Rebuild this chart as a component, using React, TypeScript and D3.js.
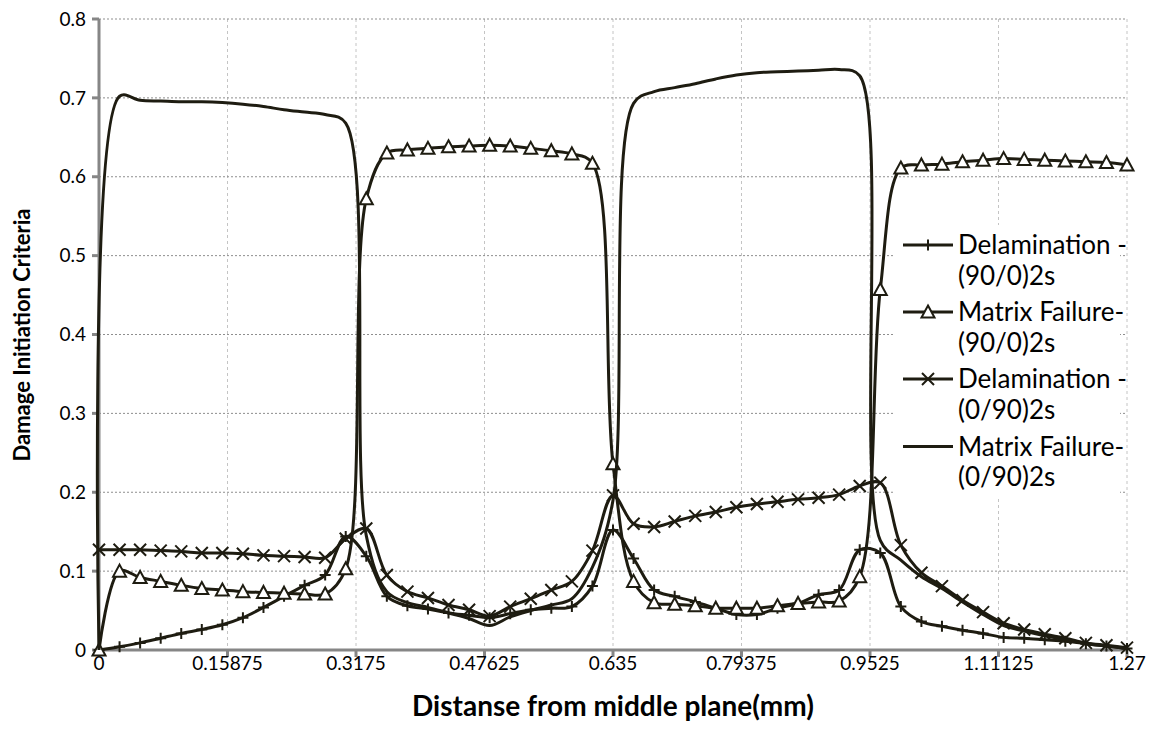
import React from "react";
import * as d3 from "d3";

const xValues = [
  0, 0.0254, 0.0508, 0.0762, 0.1016, 0.127, 0.1524, 0.1778, 0.2032, 0.2286,
  0.254, 0.2794, 0.3048, 0.3302, 0.3556, 0.381, 0.4064, 0.4318, 0.4572, 0.4826,
  0.508, 0.5334, 0.5588, 0.5842, 0.6096, 0.635, 0.6604, 0.6858, 0.7112, 0.7366,
  0.762, 0.7874, 0.8128, 0.8382, 0.8636, 0.889, 0.9144, 0.9398, 0.9652, 0.9906,
  1.016, 1.0414, 1.0668, 1.0922, 1.1176, 1.143, 1.1684, 1.1938, 1.2192, 1.2446, 1.27,
];

const delam90_0 = [
  0, 0.004, 0.009, 0.015, 0.021, 0.026, 0.032, 0.041, 0.054, 0.068,
  0.082, 0.095, 0.144, 0.119, 0.068, 0.056, 0.052, 0.047, 0.044, 0.041,
  0.046, 0.051, 0.053, 0.055, 0.081, 0.152, 0.116, 0.076, 0.068, 0.061,
  0.053, 0.045, 0.045, 0.053, 0.059, 0.07, 0.076, 0.127, 0.123, 0.055,
  0.036, 0.03, 0.025, 0.021, 0.016, 0.015, 0.013, 0.011, 0.008, 0.005, 0.002,
];

const matrix90_0 = [
  0, 0.1, 0.092, 0.087, 0.082, 0.078, 0.076, 0.074, 0.073, 0.072,
  0.071, 0.071, 0.103, 0.572, 0.63, 0.634, 0.636, 0.638, 0.639, 0.64,
  0.639, 0.636, 0.633, 0.629, 0.617, 0.236, 0.087, 0.06, 0.058, 0.056,
  0.053, 0.053, 0.053, 0.056, 0.059, 0.061, 0.062, 0.093, 0.457, 0.611,
  0.615, 0.616, 0.619, 0.621, 0.623, 0.622, 0.621, 0.62, 0.619, 0.618, 0.615,
];

const delam0_90 = [
  0.127, 0.127, 0.127, 0.126, 0.125, 0.123, 0.123, 0.122, 0.12, 0.119,
  0.118, 0.117, 0.141, 0.154, 0.095, 0.074, 0.066, 0.057, 0.051, 0.043,
  0.055, 0.065, 0.076, 0.087, 0.126, 0.196, 0.16, 0.156, 0.163, 0.17,
  0.175, 0.181, 0.185, 0.188, 0.191, 0.193, 0.197, 0.208, 0.212, 0.133,
  0.098, 0.081, 0.063, 0.048, 0.034, 0.026, 0.02, 0.015, 0.009, 0.006, 0.003,
];

const matrix0_90 = [
  0, 0.702, 0.697, 0.696, 0.695, 0.695, 0.694, 0.692, 0.689, 0.685,
  0.682, 0.679, 0.668, 0.145, 0.074, 0.06, 0.054, 0.047, 0.04, 0.031,
  0.042, 0.05, 0.057, 0.065, 0.105, 0.19, 0.693, 0.708, 0.713, 0.718,
  0.724, 0.729, 0.732, 0.733, 0.734, 0.735, 0.736, 0.728, 0.139, 0.114,
  0.093, 0.078, 0.061, 0.045, 0.031, 0.024, 0.018, 0.013, 0.008, 0.005, 0.002,
];

const xTicks = [0, 0.15875, 0.3175, 0.47625, 0.635, 0.79375, 0.9525, 1.11125, 1.27];
const xTickLabels = ["0", "0.15875", "0.3175", "0.47625", "0.635", "0.79375", "0.9525", "1.11125", "1.27"];
const yTicks = [0, 0.1, 0.2, 0.3, 0.4, 0.5, 0.6, 0.7, 0.8];

const seriesNames = [
  ["Delamination -", "(90/0)2s"],
  ["Matrix Failure-", "(90/0)2s"],
  ["Delamination -", "(0/90)2s"],
  ["Matrix Failure-", "(0/90)2s"],
];
const seriesMarkers = ["plus", "triangle", "cross", "none"];
const seriesValues = [delam90_0, matrix90_0, delam0_90, matrix0_90];

const xTitle = "Distanse from middle plane(mm)";
const yTitle = "Damage Initiation Criteria";

const LINE = "#1e1c11";
const FONT = "Lato, 'Open Sans', sans-serif";

function Marker({ kind, x, y }: { kind: string; x: number; y: number }) {
  if (kind === "plus") {
    return (
      <path
        d={`M${x - 5.5},${y}H${x + 5.5}M${x},${y - 5.5}V${y + 5.5}`}
        stroke={LINE}
        strokeWidth={2}
        fill="none"
      />
    );
  }
  if (kind === "cross") {
    const s = 6;
    return (
      <path
        d={`M${x - s},${y - s}L${x + s},${y + s}M${x - s},${y + s}L${x + s},${y - s}`}
        stroke={LINE}
        strokeWidth={2}
        fill="none"
      />
    );
  }
  if (kind === "triangle") {
    return (
      <path
        d={`M${x},${y - 6.5}L${x + 6.5},${y + 5.5}L${x - 6.5},${y + 5.5}Z`}
        stroke={LINE}
        strokeWidth={2}
        fill="#fff"
      />
    );
  }
  return null;
}

export default function App() {
  const W = 1149;
  const H = 750;
  const x = d3.scaleLinear().domain([0, 1.27]).range([99, 1127]);
  const y = d3.scaleLinear().domain([0, 0.8]).range([650, 19]);

  const line = d3
    .line<number>()
    .x((_, i) => x(xValues[i]))
    .y((d) => y(d))
    .curve(d3.curveCatmullRom.alpha(0.5));

  const legend = { x0: 893, x1: 1120, y0: 225, y1: 497 };
  const legendRowY = [245, 312, 379, 446.5];

  return (
    <svg
      width={W}
      height={H}
      style={{ position: "absolute", left: 0, top: 0, background: "#fff" }}
      fontFamily={FONT}
    >
      <rect x={0} y={0} width={W} height={H} fill="#fff" />
      {xTicks.slice(1).map((t) => (
        <line
          key={"vg" + t}
          x1={x(t)}
          x2={x(t)}
          y1={y(0.8)}
          y2={y(0)}
          stroke="#c4c4c4"
          strokeWidth={1}
          strokeDasharray="3,3"
        />
      ))}
      {yTicks.slice(1).map((t) => (
        <line
          key={"hg" + t}
          x1={x(0)}
          x2={x(1.27)}
          y1={y(t)}
          y2={y(t)}
          stroke="#8e8e8e"
          strokeWidth={1}
          strokeDasharray="2,2"
        />
      ))}
      <rect
        x={legend.x0}
        y={legend.y0}
        width={legend.x1 - legend.x0}
        height={legend.y1 - legend.y0}
        fill="#fff"
      />
      <line x1={x(0)} x2={x(0)} y1={y(0.8)} y2={y(0) + 1.5} stroke="#868686" strokeWidth={3} />
      <line x1={x(0) - 1.5} x2={x(1.27)} y1={y(0)} y2={y(0)} stroke="#868686" strokeWidth={3} />
      {yTicks.map((t) => (
        <line key={"yt" + t} x1={x(0) - 7} x2={x(0)} y1={y(t)} y2={y(t)} stroke="#868686" strokeWidth={3} />
      ))}
      {xTicks.map((t) => (
        <line key={"xt" + t} x1={x(t)} x2={x(t)} y1={y(0)} y2={y(0) + 7} stroke="#868686" strokeWidth={3} />
      ))}
      {yTicks.map((t) => (
        <text key={"yl" + t} x={86} y={y(t)} dy="0.35em" textAnchor="end" fontSize={19} fill="#000">
          {t === 0 ? "0" : t.toFixed(1)}
        </text>
      ))}
      {xTicks.map((t, i) => (
        <text key={"xl" + t} x={x(t)} y={663} dy="0.35em" textAnchor="middle" fontSize={19} fill="#000">
          {xTickLabels[i]}
        </text>
      ))}
      <text
        transform={`translate(22,335) rotate(-90)`}
        textAnchor="middle"
        dy="0.35em"
        fontSize={22}
        fontWeight="bold"
        fill="#000"
      >
        {yTitle}
      </text>
      <text x={613} y={706} dy="0.35em" textAnchor="middle" fontSize={28} fontWeight="bold" fill="#000">
        {xTitle}
      </text>
      {seriesValues.map((vals, si) => (
        <g key={"s" + si}>
          <path d={line(vals) || ""} fill="none" stroke={LINE} strokeWidth={3} strokeLinejoin="round" />
          {vals.map((v, i) => (
            <Marker key={i} kind={seriesMarkers[si]} x={x(xValues[i])} y={y(v)} />
          ))}
        </g>
      ))}
      {seriesNames.map((name, si) => (
        <g key={"lg" + si}>
          <line x1={903} x2={953} y1={legendRowY[si]} y2={legendRowY[si]} stroke={LINE} strokeWidth={3} />
          <Marker kind={seriesMarkers[si]} x={928} y={legendRowY[si]} />
          <text x={958} y={legendRowY[si]} dy="0.35em" fontSize={26} fill="#000">
            {name[0]}
          </text>
          <text x={958} y={legendRowY[si] + 30.5} dy="0.35em" fontSize={26} fill="#000">
            {name[1]}
          </text>
        </g>
      ))}
    </svg>
  );
}
